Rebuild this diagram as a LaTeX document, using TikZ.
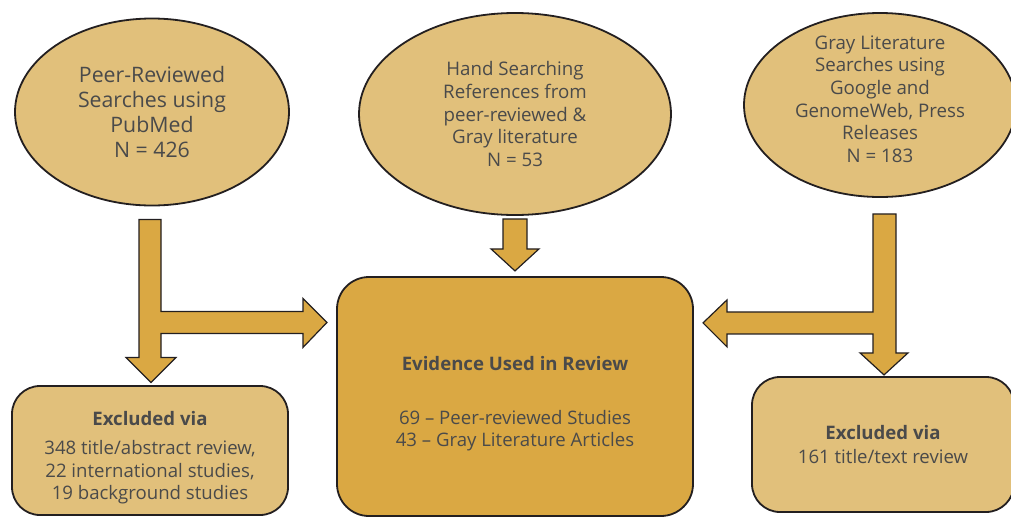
\documentclass[tikz,border=0pt]{standalone}
\usepackage{fontspec}
\setmainfont{Open Sans}
\usetikzlibrary{calc, shapes.geometric, positioning}
\definecolor{palegold}{HTML}{E1C07B}
\definecolor{deepgold}{HTML}{DAA843}
\definecolor{inkgray}{HTML}{4A4A4A}
\definecolor{rimblack}{HTML}{231F20}
\tikzset{
    ovalnode/.style = {draw=rimblack, fill=palegold, ellipse, line width=1.8pt, inner sep=0pt,
      text=inkgray, align=center, font=\fontsize{18.7}{22.6}\selectfont},
    roundnode/.style = {draw=rimblack, fill=palegold, rectangle, rounded corners=28pt,
      line width=1.8pt, inner sep=0pt, text=inkgray, align=center, font=\fontsize{18.6}{22.2}\selectfont},
    fatarrow/.style = {draw=rimblack, fill=deepgold, line width=1.2pt, line join=miter}
}

\begin{document}
\begin{tikzpicture}[x=1pt, y=-1pt]
    \useasboundingbox (0,0) rectangle (1011,517);
    \clip (0,0) rectangle (1011,517);

    \node [name=pubmed, ovalnode, minimum width=274pt, minimum height=187pt,
      font=\fontsize{21.3}{25.3}\selectfont] at (152,112) {Peer-Reviewed\\Searches using\\PubMed\\N = 426};
    \node [name=hand, ovalnode, minimum width=312pt, minimum height=202pt] at (515,114)
      {Hand Searching\\References from\\peer-reviewed \&\\Gray literature\\N = 53};
    \node [name=gray, ovalnode, inner ysep=-8pt, minimum width=272pt, minimum height=184pt] at (880,105)
      {Gray Literature\\Searches using\\Google and\\GenomeWeb, Press\\Releases\\N = 183\\[-10.6pt]};

    \node [name=evidence, roundnode, fill=deepgold, rounded corners=32pt, minimum width=356pt,
      minimum height=239pt] at (515,396.5)
      {\textbf{Evidence Used in Review}\\[32pt]69 -- Peer-reviewed Studies\\43 -- Gray Literature Articles\\[-32pt]};
    \node [name=exleft, roundnode, minimum width=276pt, minimum height=129pt] at (150,450.5)
      {\textbf{Excluded via}\\[7pt]348 title/abstract review,\\22 international studies,\\19 background studies\\[-32pt]};
    \node [name=exright, roundnode, minimum width=262pt, minimum height=135pt] at (883,444.5)
      {\textbf{Excluded via}\\[2pt]161 title/text review};

    % left search: down to excluded, across to evidence
    \draw [fatarrow] ($(pubmed.south)+(-13,13)$) -- ++(0,138) -- ++(-13,0) -- ++(25,25) -- ++(25,-25)
      -- ++(-15,0) -- ++(0,-24) -- ++(142,0) -- ++(0,14) -- ++(24,-25) -- ++(-24,-24) -- ++(0,13)
      -- ++(-142,0) -- ++(0,-92) -- cycle;
    % hand search straight down
    \draw [fatarrow] ($(hand.south)+(-12,3)$) -- ++(0,30) -- ++(-12,0) -- ++(24,22) -- ++(24,-22)
      -- ++(-12,0) -- ++(0,-30) -- cycle;
    % gray search: down to excluded, across to evidence
    \draw [fatarrow] ($(gray.south)+(16,16)$) -- ++(0,139) -- ++(12,0) -- ++(-24,22) -- ++(-24,-22)
      -- ++(13,0) -- ++(0,-19) -- ++(-146,0) -- ++(0,13) -- ++(-24,-24) -- ++(24,-23) -- ++(0,12)
      -- ++(146,0) -- ++(0,-98) -- cycle;
\end{tikzpicture}
\end{document}
